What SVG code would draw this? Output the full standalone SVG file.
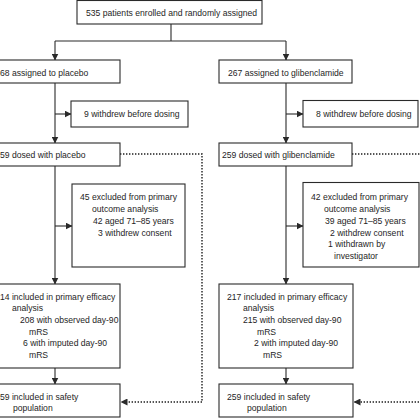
<svg xmlns="http://www.w3.org/2000/svg" width="420" height="420" viewBox="0 0 420 420">
<defs>
<marker id="ah" markerWidth="7" markerHeight="7" refX="6.5" refY="3.5" orient="auto" markerUnits="userSpaceOnUse">
<path d="M0,0 L7,3.5 L0,7 z" fill="#2a2a2a"/>
</marker>
<style>
.box{fill:#fff;stroke:#2a2a2a;stroke-width:1.1}
.t{font-family:"Liberation Sans",Arial,sans-serif;font-size:8.6px;fill:#1e1e1e}
.c{fill:none;stroke:#2a2a2a;stroke-width:1.1}
.d{fill:none;stroke:#1e1e1e;stroke-width:1.4;stroke-dasharray:1.4 1.6}
</style>
</defs>
<rect width="420" height="420" fill="#fff"/>
<g id="connectors">
<path class="c" d="M171,24 V41 M55,41 H286"/>
<path class="c" d="M55,41 V60" marker-end="url(#ah)"/>
<path class="c" d="M286,41 V60" marker-end="url(#ah)"/>
<path class="c" d="M55,83 V143" marker-end="url(#ah)"/>
<path class="c" d="M55,114 H71" marker-end="url(#ah)"/>
<path class="c" d="M286,83 V143" marker-end="url(#ah)"/>
<path class="c" d="M286,114 H303" marker-end="url(#ah)"/>
<path class="c" d="M55,166 V284" marker-end="url(#ah)"/>
<path class="c" d="M55,226 H72" marker-end="url(#ah)"/>
<path class="c" d="M286,166 V284" marker-end="url(#ah)"/>
<path class="c" d="M286,226 H303" marker-end="url(#ah)"/>
<path class="c" d="M55,368 V384" marker-end="url(#ah)"/>
<path class="c" d="M286,368 V384" marker-end="url(#ah)"/>
<path class="d" d="M120,154 H202 V402 H121" marker-end="url(#ah)"/>
<path class="d" d="M352,154 H425"/>
<path class="d" d="M425,402 H354" marker-end="url(#ah)"/>
</g>
<g id="enrolled">
<rect class="box" x="77" y="0.5" width="185" height="23.5"/>
<text class="t" x="86" y="16">535 patients enrolled and randomly assigned</text>
</g>
<g id="placebo">
<rect class="box" x="-15" y="60" width="135" height="23"/>
<text class="t" x="-4.8" y="75.5">268 assigned to placebo</text>
</g>
<g id="glib">
<rect class="box" x="219" y="60" width="133" height="23"/>
<text class="t" x="228" y="75.5">267 assigned to glibenclamide</text>
</g>
<g id="withdrew-left">
<rect class="box" x="71" y="101" width="117" height="26"/>
<text class="t" x="84" y="117">9 withdrew before dosing</text>
</g>
<g id="withdrew-right">
<rect class="box" x="303" y="100.5" width="115" height="26.5"/>
<text class="t" x="316" y="117">8 withdrew before dosing</text>
</g>
<g id="dosed-left">
<rect class="box" x="-15" y="143" width="135" height="23"/>
<text class="t" x="-4.8" y="157.5">259 dosed with placebo</text>
</g>
<g id="dosed-right">
<rect class="box" x="219" y="143" width="133" height="23"/>
<text class="t" x="222" y="157.5">259 dosed with glibenclamide</text>
</g>
<g id="excluded-left">
<rect class="box" x="72" y="184" width="113" height="83"/>
<text class="t" x="80" y="199.5">45 excluded from primary</text>
<text class="t" x="92" y="212">outcome analysis</text>
<text class="t" x="93" y="224">42 aged 71–85 years</text>
<text class="t" x="98" y="235.5">3 withdrew consent</text>
</g>
<g id="excluded-right">
<rect class="box" x="303" y="182.5" width="116" height="84.5"/>
<text class="t" x="311" y="199.5">42 excluded from primary</text>
<text class="t" x="324" y="212">outcome analysis</text>
<text class="t" x="325" y="224">39 aged 71–85 years</text>
<text class="t" x="330" y="235.5">2 withdrew consent</text>
<text class="t" x="328" y="247">1 withdrawn by</text>
<text class="t" x="334" y="259">investigator</text>
</g>
<g id="primary-left">
<rect class="box" x="-15" y="284" width="135" height="84"/>
<text class="t" x="-4.8" y="299.5">214 included in primary efficacy</text>
<text class="t" x="12" y="311">analysis</text>
<text class="t" x="20" y="323">208 with observed day-90</text>
<text class="t" x="29" y="334.5">mRS</text>
<text class="t" x="23" y="346">6 with imputed day-90</text>
<text class="t" x="29" y="358">mRS</text>
</g>
<g id="primary-right">
<rect class="box" x="219" y="284" width="134" height="84"/>
<text class="t" x="227" y="299.5">217 included in primary efficacy</text>
<text class="t" x="243" y="311">analysis</text>
<text class="t" x="243" y="323">215 with observed day-90</text>
<text class="t" x="257" y="334.5">mRS</text>
<text class="t" x="254" y="346">2 with imputed day-90</text>
<text class="t" x="263" y="358">mRS</text>
</g>
<g id="safety-left">
<rect class="box" x="-15" y="384" width="135" height="33"/>
<text class="t" x="-4.8" y="399.5">259 included in safety</text>
<text class="t" x="13" y="410.5">population</text>
</g>
<g id="safety-right">
<rect class="box" x="219" y="384" width="134" height="33"/>
<text class="t" x="227" y="399.5">259 included in safety</text>
<text class="t" x="247" y="410.5">population</text>
</g>
</svg>
